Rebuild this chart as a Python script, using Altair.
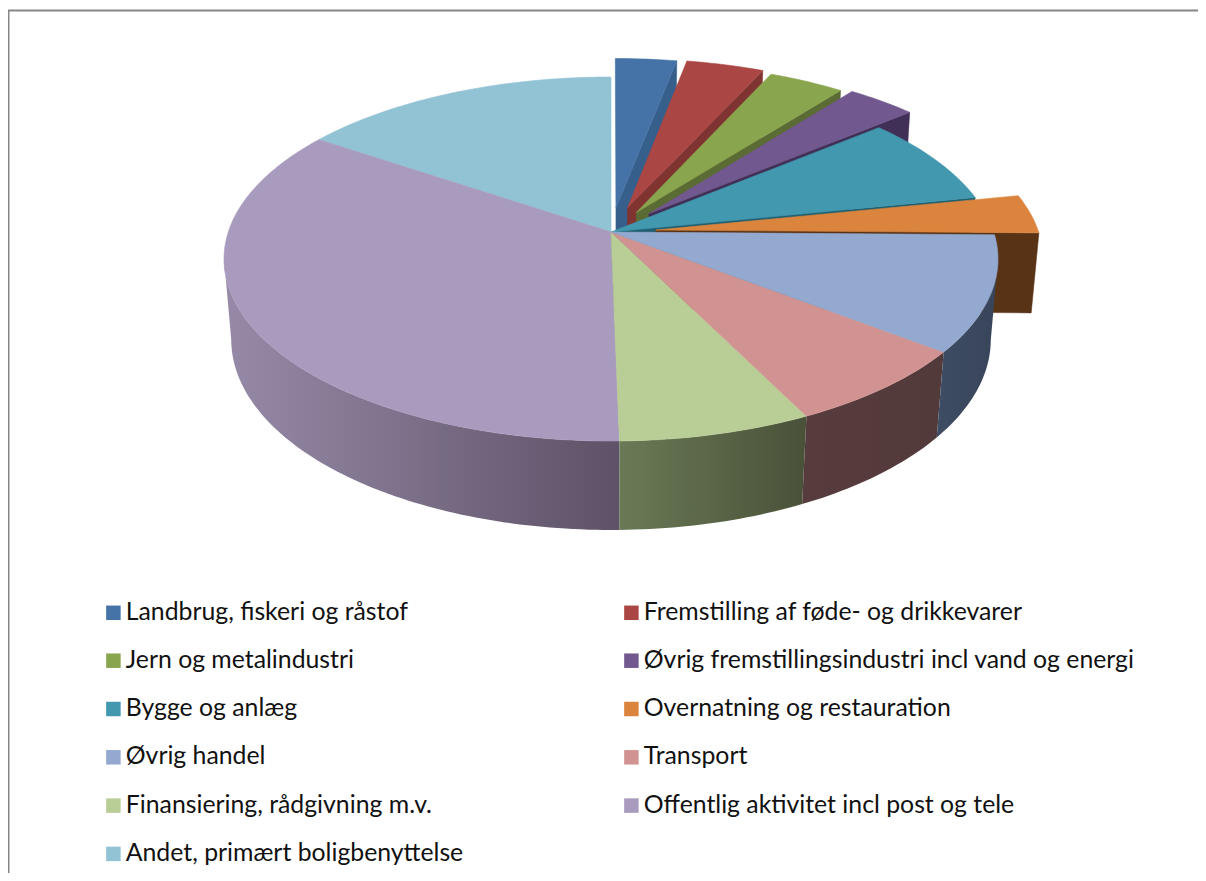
import math
import altair as alt

# ---- chart data (share of total, %)
categories = ["Landbrug, fiskeri og råstof", "Fremstilling af føde- og drikkevarer",
              "Jern og metalindustri", "Øvrig fremstillingsindustri incl vand og energi",
              "Bygge og anlæg", "Overnatning og restauration", "Øvrig handel", "Transport",
              "Finansiering, rådgivning m.v.", "Offentlig aktivitet incl post og tele",
              "Andet, primært boligbenyttelse"]
shares = [3.0, 3.8, 3.7, 3.4, 7.9, 3.45, 10.25, 7.2, 7.0, 34.8, 15.5]

# ---- styling
top_colors = ["#4573A7", "#AA4643", "#89A54E", "#71588F", "#4198AF", "#DB843D",
              "#93A9CF", "#D19392", "#B9CD96", "#A99BBD", "#91C3D5"]
face_colors = {0: "#365F8C", 1: "#7F3431", 2: "#5B6B34", 3: "#402F57", 4: "#1F5F70", 5: "#593316"}
wall_grads = {6: ("#3E4D63", "#38445A"), 7: ("#573C3D", "#52393A"),
              8: ("#6A7A56", "#495138"), 9: ("#978AA8", "#5D5267")}
explode = {0: 0.14, 1: 0.145, 2: 0.13, 3: 0.145, 5: 0.118}

OX, OY = 8, 8
XC, Y0 = 611, 232
A, B, K = 382.7, 178.0, 0.1484
A2, B2, K2, Y02 = 375.8, 186.5, 0.1444, 312
W, H = 1190, 865
WALL_FROM, WALL_TO = 98.5, 261.6  # where the side wall meets the outline


def top_pt(u, v):
    d = 1 + K * v
    return [XC + A * u / d - OX, Y0 - B * v / d - OY]


def bot_pt(u, v):
    d = 1 + K2 * v
    return [XC + A2 * u / d - OX, Y02 - B2 * v / d - OY]


def arc(t0, t1, ex, ey, pt):
    n = max(2, int((t1 - t0) / 1.0))
    out = []
    for i in range(n + 1):
        t = math.radians(t0 + (t1 - t0) * i / n)
        out.append(pt(ex + math.sin(t), ey + math.cos(t)))
    return out


def feature(coords, name=""):
    ring = coords + [coords[0]]
    return {"type": "Feature", "properties": {"name": name},
            "geometry": {"type": "Polygon", "coordinates": [ring]}}


color_scale = alt.Scale(domain=categories, range=top_colors)
color = alt.Color("properties.name:N", scale=color_scale,
                  legend=alt.Legend(title=None, orient="none", legendX=93, legendY=592,
                                    columns=2, direction="horizontal",
                                    symbolType="square", symbolSize=210,
                                    symbolStrokeWidth=0, labelFont="Lato", labelFontSize=24.8,
                                    labelColor="#111111", labelLimit=600, labelOffset=0,
                                    rowPadding=22.3, columnPadding=155, gridAlign="each",
                                    values=categories))
edge = alt.Stroke("properties.name:N", scale=color_scale, legend=None)


def layer(feat, fill=None):
    data = alt.Data(values=[feat], format=alt.DataFormat(type="json"))
    if fill is None:
        ch = alt.Chart(data).mark_geoshape(strokeWidth=0.6).encode(color=color, stroke=edge)
    elif isinstance(fill, dict):
        ch = alt.Chart(data).mark_geoshape(fill=fill, strokeWidth=0)
    else:
        ch = alt.Chart(data).mark_geoshape(fill=fill, stroke=fill, strokeWidth=0.5)
    return ch.project(type="identity", scale=1, translate=[0, 0])


total = sum(shares)
bounds = [0.0]
for s in shares:
    bounds.append(bounds[-1] + s / total * 360)

border_x = alt.Chart(alt.Data(values=[{"a": 0}])).mark_rule(color="#868686", strokeWidth=2).encode(
    x=alt.value(0.5), y=alt.value(2), y2=alt.value(H))
border_y = alt.Chart(alt.Data(values=[{"a": 0}])).mark_rule(color="#868686", strokeWidth=2).encode(
    x=alt.value(0), x2=alt.value(W), y=alt.value(2.5))
layers = [border_x, border_y]


def add_slice(i):
    t0, t1 = bounds[i], bounds[i + 1]
    mid = math.radians((t0 + t1) / 2)
    e = explode.get(i, 0.0)
    ex, ey = e * math.sin(mid), e * math.cos(mid)
    tip_t, tip_b = top_pt(ex, ey), bot_pt(ex, ey)
    if i in face_colors:
        c = face_colors[i]
        t = math.radians(t1)
        u, v = ex + math.sin(t), ey + math.cos(t)
        layers.append(layer(feature([tip_t, top_pt(u, v), bot_pt(u, v), tip_b]), c))
    if i in wall_grads:
        c0, c1 = wall_grads[i]
        grad = {"gradient": "linear", "x1": 0, "x2": 1, "y1": 0, "y2": 0,
                "stops": [{"offset": 0, "color": c0}, {"offset": 1, "color": c1}]}
        start, end = max(t0, WALL_FROM), min(t1, WALL_TO)
        a, b = arc(start, end, ex, ey, top_pt), arc(start, end, ex, ey, bot_pt)
        layers.append(layer(feature(a + b[::-1]), grad))
    layers.append(layer(feature([tip_t] + arc(t0, t1, ex, ey, top_pt), categories[i])))


for i in [10, 0, 1, 2, 3, 4, 5, 9, 8, 7, 6]:
    add_slice(i)

chart = alt.layer(*layers).properties(
    width=W, height=H, padding=0,
    autosize=alt.AutoSizeParams(type="none"),
).configure_view(stroke=None)

chart.save("out.html", embed_options={"renderer": "svg", "actions": False})
